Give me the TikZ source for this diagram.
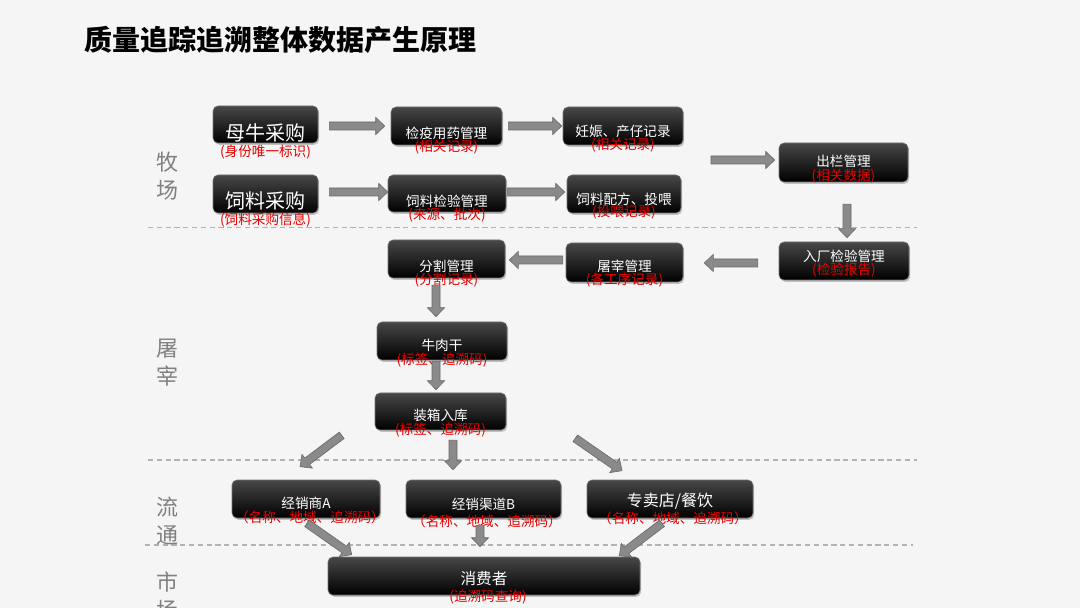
\documentclass[tikz,border=0pt]{standalone}
\usepackage{fontspec}
\setmainfont{Noto Sans CJK SC}
\usetikzlibrary{calc,shadows}
\definecolor{bg}{RGB}{245,245,245}
\definecolor{rd}{RGB}{232,0,0}
\definecolor{lab}{RGB}{128,128,128}
\definecolor{dl}{RGB}{178,178,178}
\definecolor{af}{RGB}{138,138,138}
\definecolor{ad}{RGB}{105,105,105}
\tikzset{
  bshadow/.style={drop shadow={opacity=0.45, shadow xshift=0.6pt, shadow yshift=-0.9pt}},
  box/.style={top color=black!72, middle color=black, bottom color=black, draw=black!55, line width=0.3pt, rounded corners=2.5pt, inner sep=0pt, bshadow},
  bw/.style={minimum width=#1*0.5pt},
  bh/.style={minimum height=#1*0.5pt},
  wt/.style={text=white, inner sep=0pt, font=\fontsize{6.8}{8}\selectfont},
  wbig/.style={text=white, inner sep=0pt, font=\fontsize{10}{12}\selectfont},
  rt/.style={text=rd, inner sep=0pt, font=\fontsize{6.8}{8}\selectfont},
  sec/.style={text=lab, inner sep=0pt, font=\fontsize{11}{14}\selectfont, align=center},
  sepline/.style={draw=dl, line width=0.6pt, dash pattern=on 2.6pt off 1.8pt},
  barr/.style={fill=af, draw=ad, line width=0.3pt},
}
\newcommand\barrow[2]{%
  \coordinate (ba1) at #1; \coordinate (ba2) at #2;
  \coordinate (bah) at ($(ba2)!4.5pt!(ba1)$);
  \filldraw[barr] ($(ba1)!2pt!90:(ba2)$) -- ($(bah)!2pt!90:(ba2)$) -- ($(bah)!4.3pt!90:(ba2)$)
    -- (ba2) -- ($(bah)!4.3pt!-90:(ba2)$) -- ($(bah)!2pt!-90:(ba2)$) -- ($(ba1)!2pt!-90:(ba2)$) -- cycle;
}
\begin{document}
\begin{tikzpicture}[x=0.5pt,y=-0.5pt]
\clip (0,0) rectangle (1080,608);
\fill[bg] (0,0) rectangle (1080,608);

% title
\node[anchor=west, inner sep=0pt, font=\fontsize{14}{16}\selectfont\bfseries] (title) at (84,40) {质量追踪追溯整体数据产生原理};

% separators
\draw[sepline] (148,227.5) -- (917,227.5);
\draw[sepline] (148,460) -- (917,460);
\draw[sepline] (145,545) -- (913,545);

% section labels
\node[sec] (s1) at (167,176) {牧\\场};
\node[sec] (s2) at (167,362.5) {屠\\宰};
\node[sec] (s3) at (167,521.5) {流\\通};
\node[sec] (s4) at (167,596) {市\\场};

% boxes
\node[box, bw=105, bh=37] (mn) at (265.5,124.5) {};
\node[wbig] at (265.5,133) {母牛采购};
\node[rt] at (265.5,152) {(身份唯一标识)};

\node[box, bw=111, bh=38] (jy) at (446.5,126) {};
\node[wt] at (446.5,133) {检疫用药管理};
\node[rt] at (446.5,147.5) {(相关记录)};

\node[box, bw=120, bh=38] (rs) at (623,126) {};
\node[wt] at (623,131) {妊娠、产仔记录};
\node[rt] at (623,145) {(相关记录)};

\node[box, bw=105, bh=38] (sl) at (265.5,194) {};
\node[wbig] at (265.5,201) {饲料采购};
\node[rt] at (265.5,220) {(饲料采购信息)};

\node[box, bw=118, bh=37] (sj) at (447,193.5) {};
\node[wt] at (447,201.5) {饲料检验管理};
\node[rt] at (447,215.5) {(来源、批次)};

\node[box, bw=114, bh=38] (pf) at (624,194) {};
\node[wt] at (624,199) {饲料配方、投喂};
\node[rt] at (624,212) {(投喂记录)};

\node[box, bw=129, bh=39] (cl) at (843.5,162.5) {};
\node[wt] at (843.5,161.5) {出栏管理};
\node[rt] at (843.5,176.5) {(相关数据)};

\node[box, bw=130, bh=38] (rc) at (844,261) {};
\node[wt] at (844,256) {入厂检验管理};
\node[rt] at (844,270) {(检验报告)};

\node[box, bw=117, bh=39] (tz) at (624.5,262.5) {};
\node[wt] at (624.5,266) {屠宰管理};
\node[rt] at (624.5,280) {(各工序记录)};

\node[box, bw=117, bh=38] (fg) at (446.5,259) {};
\node[wt] at (446.5,266.5) {分割管理};
\node[rt] at (446.5,280.5) {(分割记录)};

\node[box, bw=130, bh=38] (nr) at (442,341) {};
\node[wt] at (442,345) {牛肉干};
\node[rt] at (442,360.5) {(标签、追溯码)};

\node[box, bw=131, bh=37] (zx) at (440.5,411.5) {};
\node[wt] at (440.5,415) {装箱入库};
\node[rt] at (440.5,430) {(标签、追溯码)};

\node[box, bw=148, bh=38] (jxA) at (306,499) {};
\node[wt] at (306,503) {经销商A};
\node[rt] at (310,517) {（名称、地域、追溯码）};

\node[box, bw=155, bh=38] (jxB) at (483.5,499) {};
\node[wt] at (483.5,504) {经销渠道B};
\node[rt] at (487,521) {（名称、地域、追溯码）};

\node[box, bw=166, bh=38] (zm) at (670,499) {};
\node[wt, font=\fontsize{8}{10}\selectfont] at (670,501) {专卖店/餐饮};
\node[rt] at (673,518.5) {（名称、地域、追溯码）};

\node[box, bw=312, bh=38] (xf) at (484,576) {};
\node[wt, font=\fontsize{7.8}{10}\selectfont] at (484,579) {消费者};
\node[rt] at (488,597) {(追溯码查询)};

% arrows
\coordinate (in5) at (711,160);
\barrow{($(mn.east)+(11,1.5)$)}{($(jy.west)+(-6,0)$)}
\barrow{($(jy.east)+(6,0)$)}{($(rs.west)+(-1,0)$)}
\barrow{($(sl.east)+(11,-2)$)}{($(sj.west)+(0,-1.5)$)}
\barrow{($(sj.east)+(1,-1.5)$)}{($(pf.west)+(-2,-2)$)}
\barrow{(in5)}{($(cl.west)+(-4,-2.5)$)}
\barrow{($(cl.south)+(3.5,22)$)}{($(rc.north)+(3,-4)$)}
\barrow{($(rc.west)+(-21,2)$)}{($(tz.east)+(21,0.5)$)}
\barrow{($(tz.west)+(-3,-2.5)$)}{($(fg.east)+(4,1)$)}
\barrow{($(fg.south)+(-10.5,7)$)}{($(nr.north)+(-6,-5)$)}
\barrow{($(nr.south)+(-6,1)$)}{($(zx.north)+(-4.5,-3)$)}
\barrow{($(zx.south west)+(-33,5)$)}{($(jxA.north)+(-6,-13)$)}
\barrow{($(zx.south)+(12.5,10)$)}{($(jxB.north)+(-30.5,-10)$)}
\barrow{($(zx.south east)+(69,8)$)}{($(zm.north)+(-48,-9)$)}
\barrow{($(jxA.south)+(1,5)$)}{($(xf.north west)+(24,-2)$)}
\barrow{($(jxB.south)+(-3.5,7)$)}{($(xf.north)+(-4,-10)$)}
\barrow{($(zm.south)+(-8,5)$)}{($(xf.north east)+(-21,-1)$)}
\end{tikzpicture}
\end{document}
